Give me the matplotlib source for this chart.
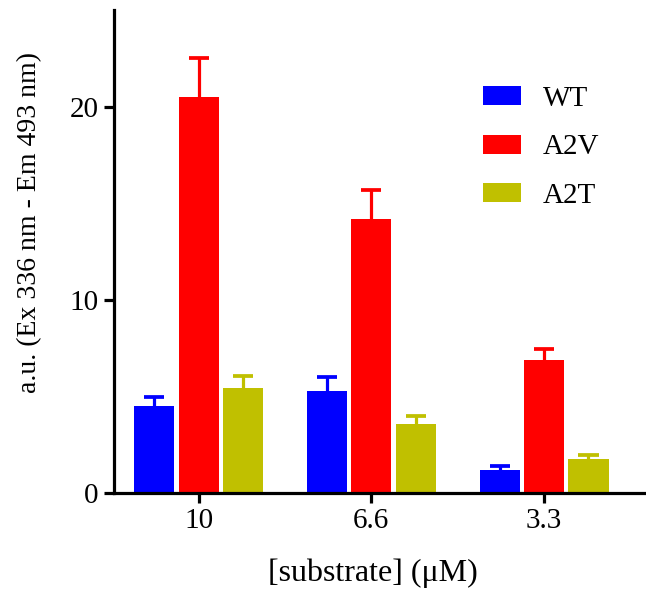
import matplotlib
matplotlib.use("Agg")
import matplotlib.pyplot as plt
import numpy as np

categories = ["10", "6.6", "3.3"]
series = ["WT", "A2V", "A2T"]
wt = [4.5, 5.3, 1.2]
wt_err = [0.48, 0.72, 0.22]
a2v = [20.5, 14.2, 6.88]
a2v_err = [2.0, 1.5, 0.55]
a2t = [5.44, 3.56, 1.76]
a2t_err = [0.6, 0.45, 0.2]
colors = ["#0000FF", "#FF0000", "#C0C000"]

plt.rcParams['font.family'] = ['Liberation Serif', 'DejaVu Serif']

fig = plt.figure(figsize=(6.46, 5.94), dpi=100)
ax = fig.add_axes([0.1765, 0.170, 0.8235, 0.813])

x = np.arange(len(categories))
w = 0.232
step = 0.257
cap_half = 0.058
vals = [wt, a2v, a2t]
errs = [wt_err, a2v_err, a2t_err]
lw = 2.3
for i, (v, e, c, name) in enumerate(zip(vals, errs, colors, series)):
    xs = x + (i - 1) * step
    v = np.array(v); e = np.array(e)
    ax.bar(xs, v, width=w, color=c, label=name, zorder=2)
    ax.vlines(xs, v, v + e, colors=c, linewidth=lw, zorder=1)
    ax.hlines(v + e, xs - cap_half, xs + cap_half, colors=c, linewidth=lw + 0.4, zorder=1)

ax.set_xlim(-0.49, 2.59)
ax.set_ylim(0, 25)
ax.set_yticks([0, 10, 20])
ax.set_xticks(x)
ax.set_xticklabels(categories)
for s in ['top', 'right']:
    ax.spines[s].set_visible(False)
for s in ['left', 'bottom']:
    ax.spines[s].set_linewidth(lw)
ax.tick_params(axis='both', width=lw, length=7, labelsize=21, pad=4)
ax.set_xlabel("[substrate] (\u03bcM)", fontsize=23)
ax.set_ylabel("a.u. (Ex 336 nm - Em 493 nm)", fontsize=20)
ax.yaxis.set_label_coords(-0.158, 0.561)
ax.yaxis.label.set_va('center')
ax.xaxis.set_label_coords(0.486, -0.166)
ax.xaxis.label.set_va('center')

ax.legend(loc='upper left', bbox_to_anchor=(0.707, 0.90), bbox_transform=fig.transFigure,
          frameon=False, fontsize=21, handlelength=1.3, handleheight=0.62,
          labelspacing=0.78, handletextpad=0.75)

fig.savefig("out.png", dpi=100)
